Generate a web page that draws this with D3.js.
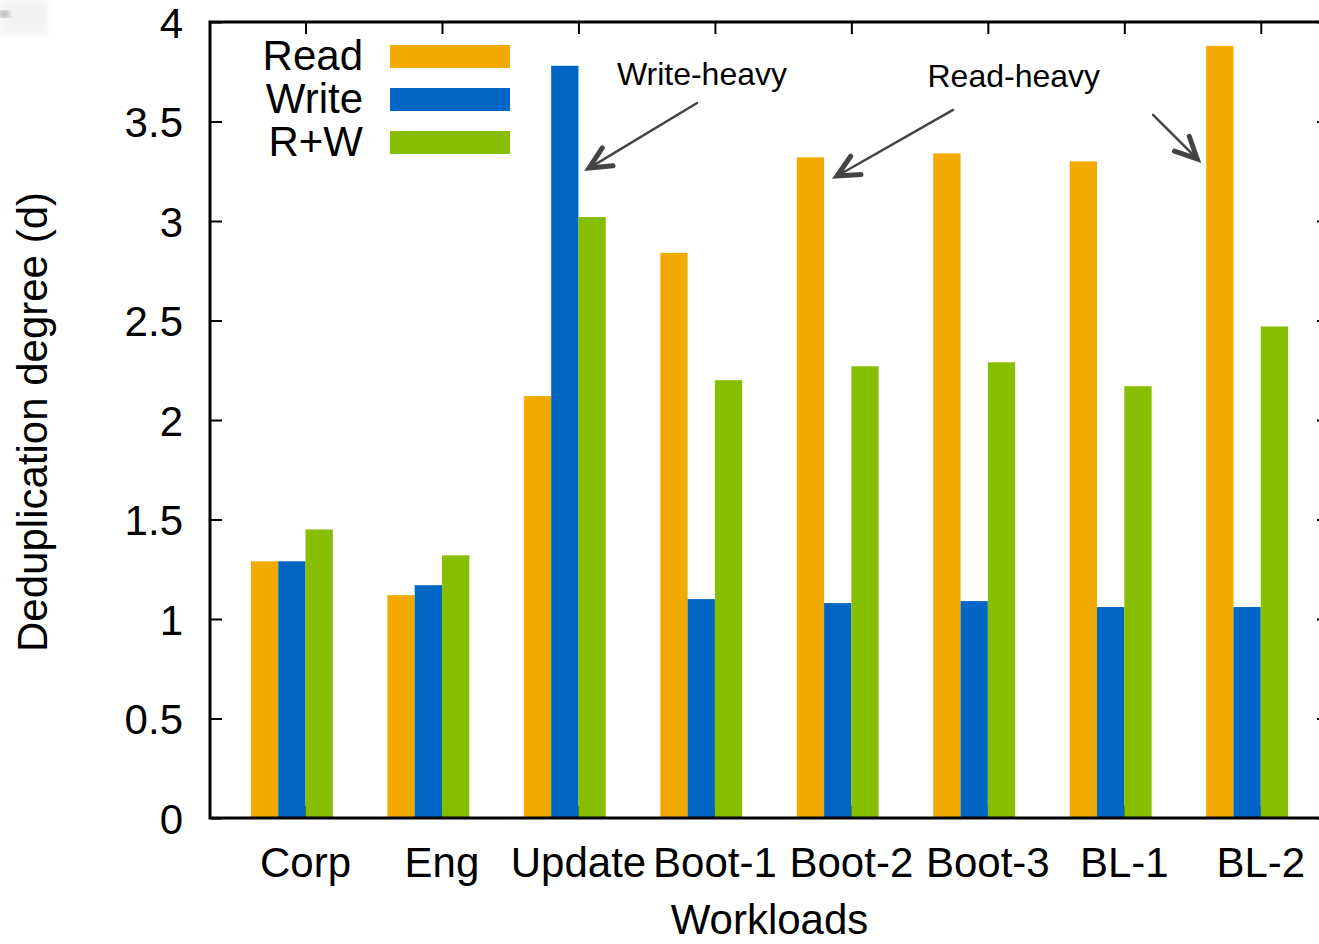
<!DOCTYPE html>
<html>
<head>
<meta charset="utf-8">
<script src="https://cdn.jsdelivr.net/npm/d3@7"></script>
<style>
  body { margin: 0; background: #fff; }
  svg text { font-family: "Liberation Sans", Arial, Helvetica, sans-serif; fill: #000; }
</style>
</head>
<body>
<svg width="1319" height="944"></svg>
<script>
var workloads = ["Corp", "Eng", "Update", "Boot-1", "Boot-2", "Boot-3", "BL-1", "BL-2"];
var readValues  = [1.29, 1.12, 2.12, 2.84, 3.32, 3.34, 3.30, 3.88];
var writeValues = [1.29, 1.17, 3.78, 1.10, 1.08, 1.09, 1.06, 1.06];
var rwValues    = [1.45, 1.32, 3.02, 2.20, 2.27, 2.29, 2.17, 2.47];
var seriesNames = ["Read", "Write", "R+W"];
var yTicks = [0, 0.5, 1, 1.5, 2, 2.5, 3, 3.5, 4];

// annotation texts and arrows, in (workload index, value) units
var notes = [
  { text: "Write-heavy", x: 2.905, y: 3.683 },
  { text: "Read-heavy", x: 5.19, y: 3.673 }
];
var arrows = [
  { x1: 2.869, y1: 3.593, x2: 2.078, y2: 3.266 },
  { x1: 4.745, y1: 3.558, x2: 3.895, y2: 3.226 },
  { x1: 6.211, y1: 3.533, x2: 6.534, y2: 3.312 }
];

var colors = { "Read": "#f2a900", "Write": "#0066c4", "R+W": "#88be00" };

var svg = d3.select("svg"),
    plotL = 210, plotR = 1329, plotT = 22, plotB = 818,
    fontSize = 42;

var x = d3.scaleLinear().domain([-0.7, 7.5]).range([plotL, plotR]);
var y = d3.scaleLinear().domain([0, 4]).range([plotB, plotT]);
var barW = 0.2;

var series = [readValues, writeValues, rwValues];
var offsets = [-2 * barW, -barW, 0];

// bottom ticks first, bars cover them
svg.append("g")
    .attr("transform", "translate(0," + plotB + ")")
    .call(d3.axisBottom(x).tickValues(d3.range(workloads.length)).tickSize(-12).tickFormat(""))
    .call(function(g) { g.select(".domain").remove(); })
    .selectAll("line").attr("stroke", "#000").attr("stroke-width", 2);

series.forEach(function(vals, s) {
  svg.append("g").selectAll("rect")
    .data(vals)
    .enter().append("rect")
      .attr("x", function(d, i) { return x(i + offsets[s]); })
      .attr("width", x(barW) - x(0))
      .attr("y", function(d) { return y(d); })
      .attr("height", function(d) { return y(0) - y(d); })
      .attr("fill", colors[seriesNames[s]]);
});

// left axis
var yAxis = svg.append("g")
    .attr("transform", "translate(" + plotL + ",0)")
    .call(d3.axisLeft(y).tickValues(yTicks).tickSize(-12).tickPadding(27).tickFormat(d3.format("")));
yAxis.select(".domain").remove();
yAxis.selectAll("line").attr("stroke", "#000").attr("stroke-width", 2);
yAxis.selectAll("text").attr("font-size", fontSize).attr("dy", "0.36em")
    .style("font-family", "'Liberation Sans', Arial, sans-serif");

// right axis mirror ticks
svg.append("g")
    .attr("transform", "translate(" + plotR + ",0)")
    .call(d3.axisRight(y).tickValues(yTicks).tickSize(-12).tickFormat(""))
    .call(function(g) { g.select(".domain").remove(); })
    .selectAll("line").attr("stroke", "#000").attr("stroke-width", 2);

// top mirror ticks
svg.append("g")
    .attr("transform", "translate(0," + plotT + ")")
    .call(d3.axisTop(x).tickValues(d3.range(workloads.length)).tickSize(-12).tickFormat(""))
    .call(function(g) { g.select(".domain").remove(); })
    .selectAll("line").attr("stroke", "#000").attr("stroke-width", 2);

// category labels
svg.append("g").selectAll("text")
    .data(workloads)
    .enter().append("text")
      .attr("x", function(d, i) { return x(i); })
      .attr("y", 877)
      .attr("text-anchor", "middle")
      .attr("font-size", fontSize)
      .text(function(d) { return d; });

// border
svg.append("rect")
    .attr("x", plotL).attr("y", plotT)
    .attr("width", plotR - plotL).attr("height", plotB - plotT)
    .attr("fill", "none").attr("stroke", "#000").attr("stroke-width", 3);

// axis titles
svg.append("text")
    .attr("x", (plotL + plotR) / 2).attr("y", 934)
    .attr("text-anchor", "middle").attr("font-size", fontSize)
    .text("Workloads");
svg.append("text")
    .attr("transform", "translate(47," + 422 + ") rotate(-90)")
    .attr("text-anchor", "middle").attr("font-size", fontSize)
    .text("Deduplication degree (d)");

// legend
var legend = svg.append("g").selectAll("g")
    .data(seriesNames)
    .enter().append("g")
      .attr("transform", function(d, i) { return "translate(0," + (56 + i * 43) + ")"; });
legend.append("rect")
    .attr("x", 390).attr("y", -11).attr("width", 120).attr("height", 23)
    .attr("fill", function(d) { return colors[d]; });
legend.append("text")
    .attr("x", 363).attr("y", 14)
    .attr("text-anchor", "end").attr("font-size", fontSize)
    .text(function(d) { return d; });

// annotations
svg.append("g").selectAll("text")
    .data(notes)
    .enter().append("text")
      .attr("x", function(d) { return x(d.x); })
      .attr("y", function(d) { return y(d.y); })
      .attr("text-anchor", "middle")
      .attr("font-size", 32)
      .text(function(d) { return d.text; });

var arrowG = svg.append("g").attr("stroke", "#444").attr("fill", "none").attr("stroke-linecap", "round");
arrows.forEach(function(a) {
  var x1 = x(a.x1), y1 = y(a.y1), x2 = x(a.x2), y2 = y(a.y2);
  var ang = Math.atan2(y2 - y1, x2 - x1), len = 24, spread = 0.45;
  arrowG.append("line")
      .attr("x1", x1).attr("y1", y1).attr("x2", x2).attr("y2", y2)
      .attr("stroke-width", 2.5);
  arrowG.append("path")
      .attr("d", "M" + (x2 - len * Math.cos(ang - spread)) + "," + (y2 - len * Math.sin(ang - spread)) +
                 "L" + x2 + "," + y2 +
                 "L" + (x2 - len * Math.cos(ang + spread)) + "," + (y2 - len * Math.sin(ang + spread)))
      .attr("stroke-width", 5).attr("stroke-linejoin", "miter");
});

// faint smudge in the top-left corner
var defs = svg.append("defs");
defs.append("filter").attr("id", "blur").append("feGaussianBlur").attr("stdDeviation", 3);
svg.append("rect").attr("x", 0).attr("y", 0).attr("width", 48).attr("height", 34)
    .attr("fill", "#f3f3f3").attr("filter", "url(#blur)");
svg.append("ellipse").attr("cx", 4).attr("cy", 14).attr("rx", 6).attr("ry", 3)
    .attr("fill", "#999").attr("filter", "url(#blur)");
</script>
</body>
</html>
